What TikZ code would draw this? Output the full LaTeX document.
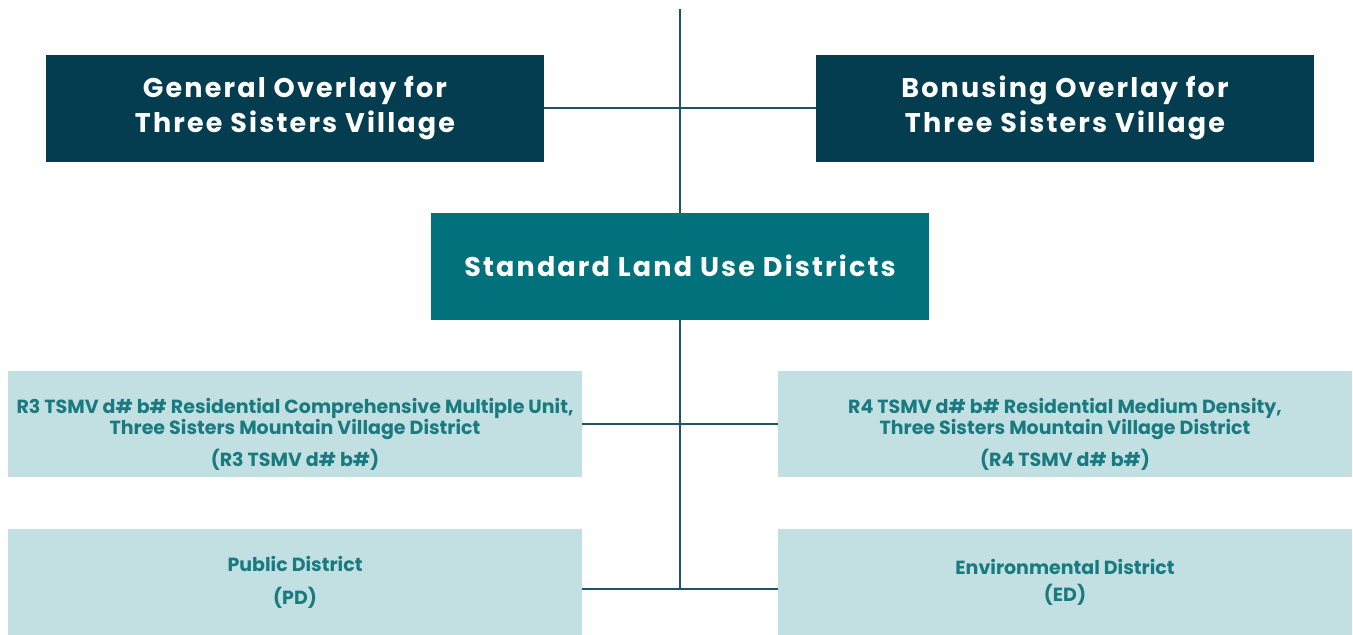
\documentclass[tikz,border=0pt]{standalone}
\usepackage{fontspec}
\setmainfont{Poppins}
\usetikzlibrary{positioning}
\definecolor{overlaydark}{HTML}{033D4F}
\definecolor{landteal}{HTML}{01717C}
\definecolor{districtpale}{HTML}{C2DFE1}
\definecolor{districttext}{HTML}{197B80}
\definecolor{wirecol}{HTML}{1F5562}

\begin{document}
\begin{tikzpicture}[
        x = 0.5pt,
        y = -0.5pt,
        overlaybox/.style = {
                fill = #1,
                text = white,
                font = \bfseries\fontsize{13.5}{17.5}\selectfont\addfontfeatures{LetterSpace=8},
                minimum width = 249pt,
                minimum height = 53.5pt,
                align = center,
                inner sep = 0pt,
                outer sep = 0pt
            },
            overlaybox/.default = overlaydark,
        districtbox/.style = {
                fill = districtpale,
                text = districttext,
                font = \bfseries\fontsize{9.5}{10.5}\selectfont,
                minimum width = 287pt,
                minimum height = 53pt,
                align = center,
                inner sep = 0pt,
                outer sep = 0pt
            },
        wire/.style = {
                line width = 1pt,
                wirecol
            }
        ]
        \useasboundingbox (0,0) rectangle (1353,634);
        \clip (0,0) rectangle (1353,634);

        \coordinate (top) at (680,9);
        \node[overlaybox] (general) at (295,108) {General Overlay for\\Three Sisters Village};
        \node[overlaybox, right=136pt of general] (bonus) {Bonusing Overlay for\\Three Sisters Village};
        \node[overlaybox=landteal] (standard) at (680,266) {Standard Land Use Districts};

        \node[districtbox] (r3) at (295,424) {\rule{0pt}{18pt}R3 TSMV d\# b\# Residential Comprehensive Multiple Unit,\\Three Sisters Mountain Village District\\[3.5pt](R3 TSMV d\# b\#)};
        \node[districtbox, right=98pt of r3] (r4) {\rule{0pt}{18pt}R4 TSMV d\# b\# Residential Medium Density,\\Three Sisters Mountain Village District\\[3.5pt](R4 TSMV d\# b\#)};
        \node[districtbox, below=26pt of r3] (pd) {Public District\\[6pt](PD)};
        \node[districtbox, right=98pt of pd] (ed) {Environmental District\\[3pt](ED)};

        \draw[wire] (top) -- (standard.north);
        \draw[wire] (general.east) -- (bonus.west);
        \draw[wire] (r3.east) -- (r4.west);
        \draw[wire] (standard.south) -- (standard.south |- 0,589);
        \draw[wire] ([yshift=-3.5pt]pd.east) -- ([yshift=-3.5pt]ed.west);

    \end{tikzpicture}
\end{document}
